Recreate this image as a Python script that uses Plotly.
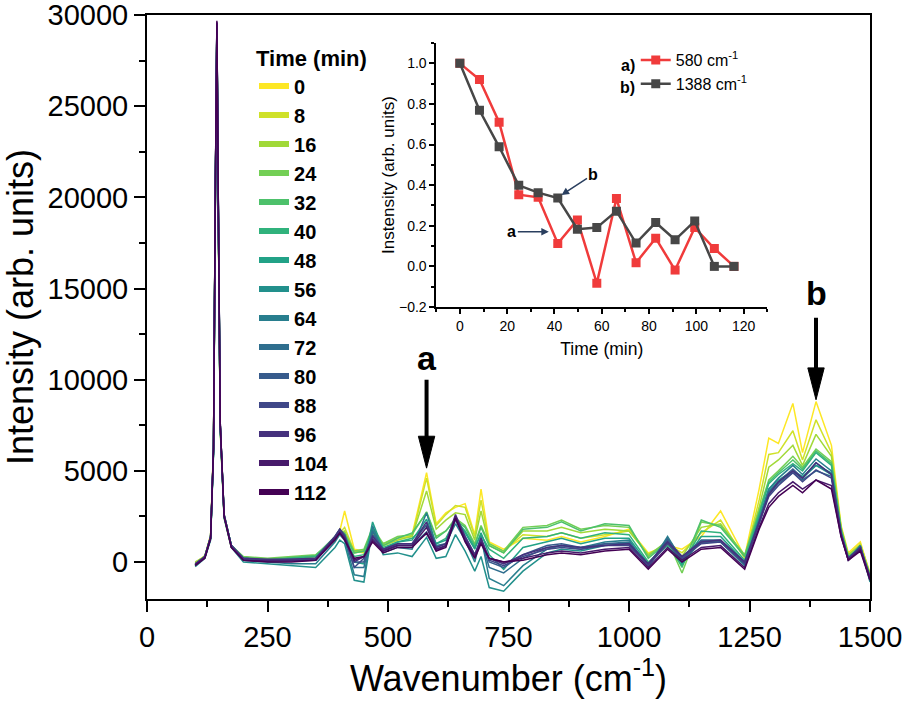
import plotly.graph_objects as go
from plotly.colors import sample_colorscale

times = [0, 8, 16, 24, 32, 40, 48, 56, 64, 72, 80, 88, 96, 104, 112]

wavenumber = [
    100, 120, 132, 138, 142, 145, 148, 152, 160, 175,
    200, 250, 300, 350, 390, 400, 410, 430, 450, 468,
    490, 520, 550, 580, 600, 620, 640, 660, 680, 693,
    710, 740, 780, 830, 860, 900, 950, 1000, 1040, 1080,
    1110, 1150, 1190, 1240, 1270, 1290, 1310, 1340, 1360, 1388,
    1420, 1440, 1455, 1480, 1500,
]

spec_0 = [
    -100, 300, 1500, 6500, 21000, 29400, 19000, 7500, 2600, 900,
    200, 100, 200, 300, 1300, 1700, 2800, 700, 600, 1700,
    900, 1200, 1500, 4900, 2100, 2700, 3000, 3200, 1500, 4000,
    1100, 700, 1300, 1200, 1400, 1100, 1400, 1800, 500, 900,
    700, 1400, 2800, 300, 4000, 6800, 6500, 8700, 6000, 8800,
    6400, 2000, 500, 1100, -700,
]
spec_8 = [
    -50, 350, 1400, 6300, 20500, 29300, 18800, 7300, 2500, 800,
    250, 150, 150, 350, 1200, 1600, 1900, 600, 500, 1600,
    1000, 1300, 1400, 4600, 2000, 2600, 3100, 3000, 1400, 3400,
    1000, 600, 1500, 1400, 1600, 1300, 1500, 1700, 400, 1000,
    500, 1600, 2300, 200, 3400, 5900, 6000, 7200, 5600, 7800,
    6000, 1900, 400, 1000, -600,
]
spec_16 = [
    0, 300, 1300, 6200, 20800, 29200, 18700, 7200, 2400, 800,
    200, 100, 250, 300, 1200, 1600, 1700, 500, 600, 1700,
    900, 1200, 1400, 3900, 1800, 2300, 2700, 2600, 1200, 2800,
    900, 500, 1700, 1700, 1900, 1600, 1800, 1700, 400, 1100,
    300, 1900, 2100, 300, 3000, 5200, 5600, 6400, 5300, 7000,
    5800, 1900, 400, 900, -700,
]
spec_24 = [
    -150, 250, 1300, 6100, 20600, 29300, 18900, 7400, 2500, 900,
    300, 200, 300, 400, 1300, 1700, 1600, 600, 700, 1900,
    1000, 1400, 1500, 2750, 1400, 1700, 2400, 2000, 1000, 2000,
    1000, 600, 1900, 2000, 2300, 1800, 2000, 1900, 300, 1200,
    -600, 2200, 2000, 400, 2800, 4500, 5000, 5800, 5200, 6200,
    5500, 1800, 300, 800, -800,
]
spec_32 = [
    -100, 300, 1400, 6200, 20900, 29400, 19100, 7500, 2600, 900,
    250, 150, 250, 350, 1400, 1800, 1500, 500, 600, 1800,
    900, 1300, 1600, 2700, 1300, 1700, 2300, 1900, 900, 1900,
    900, 500, 1800, 1900, 2200, 1700, 2100, 2000, 200, 1100,
    -300, 2300, 1900, 300, 2700, 4400, 4900, 5600, 5100, 6100,
    5400, 1800, 300, 800, -700,
]
spec_40 = [
    -200, 250, 1300, 6000, 20700, 29300, 19000, 7400, 2500, 900,
    200, 100, 200, 300, 1300, 1700, 1400, 300, 400, 1500,
    800, 1100, 1300, 2000, 1000, 1300, 2300, 1700, 800, 1500,
    700, 200, 1300, 1400, 1600, 1300, 1600, 1500, 0, 900,
    -200, 1700, 1600, 100, 2600, 4300, 4800, 5400, 5000, 6000,
    5300, 1700, 200, 700, -800,
]
spec_48 = [
    -150, 300, 1300, 6100, 20800, 29500, 19200, 7500, 2600, 900,
    150, 50, 100, 200, 1300, 1700, 1500, 0, -100, 2200,
    700, 1100, 1200, 2350, 1000, 1200, 2400, 1600, 700, 1600,
    400, -400, 800, 1100, 1300, 1000, 1300, 1300, -100, 1100,
    -100, 1400, 1400, 0, 2400, 4000, 4500, 5000, 4700, 5300,
    4900, 1600, 200, 800, -900,
]
spec_56 = [
    -250, 200, 1200, 6000, 20600, 29300, 19000, 7300, 2400, 800,
    0, -100, -200, -300, 800, 1200, 1000, -1000, -1100, 1800,
    400, 500, 300, 1350, 200, 300, 1500, 600, -500, 300,
    -1400, -1600, -500, 500, 700, 600, 900, 1000, -200, 1200,
    0, 1100, 1100, -200, 2300, 3900, 4400, 5000, 4600, 5300,
    4800, 1500, 100, 900, -1100,
]
spec_64 = [
    -200, 250, 1300, 6100, 20700, 29400, 19100, 7400, 2500, 900,
    100, 0, -100, -100, 1100, 1500, 1200, -700, -800, 2000,
    500, 800, 700, 2700, 900, 1000, 2100, 1200, 0, 1400,
    -900, -1300, -200, 700, 900, 800, 1100, 1200, -300, 1400,
    100, 1200, 1200, -100, 2400, 4000, 4600, 5300, 4800, 5650,
    5000, 1600, 200, 900, -1000,
]
spec_72 = [
    -150, 300, 1400, 6200, 20900, 29500, 19200, 7500, 2600, 900,
    200, 100, 100, 100, 1300, 1700, 1400, -300, -300, 1700,
    600, 900, 900, 1650, 700, 900, 2300, 1300, 300, 1200,
    -300, -600, 200, 800, 900, 700, 1000, 1100, -200, 1300,
    200, 1100, 1100, -100, 2200, 3700, 4300, 4900, 4500, 5000,
    4700, 1500, 200, 800, -1000,
]
spec_80 = [
    -100, 300, 1400, 6300, 21000, 29500, 19300, 7600, 2600, 900,
    200, 100, 150, 200, 1400, 1800, 1500, 0, 0, 1500,
    700, 1000, 1000, 2050, 800, 1000, 2500, 1400, 400, 1300,
    0, -300, 400, 900, 1000, 800, 1000, 1000, -100, 1200,
    300, 1200, 1200, 0, 2200, 3800, 4400, 5100, 4600, 5450,
    4800, 1500, 200, 700, -900,
]
spec_88 = [
    -150, 250, 1300, 6200, 20900, 29600, 19300, 7500, 2500, 900,
    150, 100, 100, 150, 1300, 1700, 1300, -300, 200, 1300,
    600, 900, 900, 1550, 600, 900, 2400, 1300, 300, 1200,
    100, -200, 300, 700, 800, 700, 900, 900, -200, 1000,
    200, 1000, 1100, -100, 2100, 3600, 4200, 4900, 4400, 5050,
    4600, 1500, 100, 700, -900,
]
spec_96 = [
    -100, 300, 1400, 6300, 21100, 29600, 19400, 7600, 2600, 900,
    200, 150, 150, 200, 1400, 1800, 1400, 0, 300, 1400,
    700, 1000, 1000, 2200, 800, 1000, 2600, 1400, 400, 1300,
    200, -100, 400, 800, 900, 800, 900, 1000, -100, 1100,
    300, 1100, 1200, 0, 2200, 3700, 4400, 5000, 4600, 5450,
    4800, 1600, 200, 800, -800,
]
spec_104 = [
    -150, 250, 1300, 6200, 21000, 29600, 19400, 7500, 2500, 800,
    100, 50, 50, 100, 1300, 1600, 1300, 100, 300, 1200,
    600, 900, 900, 1900, 700, 900, 2500, 1200, 300, 1100,
    200, 0, 200, 500, 600, 500, 700, 800, -300, 800,
    100, 800, 900, -300, 1900, 3200, 3800, 4400, 4000, 4500,
    4200, 1400, 100, 700, -900,
]
spec_112 = [
    -200, 200, 1300, 6300, 21200, 29700, 19500, 7600, 2500, 800,
    100, 0, 0, 100, 1200, 1600, 1200, 200, 300, 1100,
    500, 800, 800, 1600, 600, 800, 2400, 1100, 200, 1000,
    200, 0, 100, 400, 500, 400, 600, 700, -400, 700,
    0, 700, 800, -400, 1800, 3000, 3600, 4200, 3800, 4500,
    4000, 1400, 100, 600, -1000,
]

spectra = [spec_0, spec_8, spec_16, spec_24, spec_32, spec_40, spec_48, spec_56,
           spec_64, spec_72, spec_80, spec_88, spec_96, spec_104, spec_112]

# inset: normalised intensity of the two bands vs time
inset_time = [0, 8.3, 16.6, 24.9, 33.1, 41.4, 49.7, 57.9, 66.2, 74.5, 82.8, 91.0, 99.3, 107.6, 115.9]
band_580 = [1.0, 0.92, 0.71, 0.353, 0.34, 0.113, 0.229, -0.083, 0.334, 0.018, 0.139, -0.018, 0.191, 0.088, 0.0]
band_1388 = [1.0, 0.769, 0.589, 0.399, 0.363, 0.337, 0.183, 0.191, 0.272, 0.115, 0.216, 0.131, 0.223, 0.0, 0.0]

# arrow markers for the two bands in the main plot
peak_a, peak_b = 580, 1388
arrow_a = (10000, 5150)   # tail, tip (intensity)
arrow_b = (13400, 8900)

colors = sample_colorscale("Viridis", [1 - i / (len(times) - 1) for i in range(len(times))])
FONT = "Liberation Sans, Arial, sans-serif"

fig = go.Figure()

for t, y, c in zip(times, spectra, colors):
    fig.add_trace(go.Scatter(
        x=wavenumber, y=y, mode="lines",
        line=dict(color=c, width=1.5),
        showlegend=False, hoverinfo="skip",
    ))

# legend-only entries with thick sample lines
for t, c in zip(times, colors):
    fig.add_trace(go.Scatter(
        x=[None], y=[None], mode="lines", name=f"<b>{t}</b>",
        line=dict(color=c, width=6),
    ))

# inset traces
fig.add_trace(go.Scatter(
    x=inset_time, y=band_580, mode="lines+markers", name="580 cm<sup>-1</sup>",
    line=dict(color="#f03b3b", width=2.5),
    marker=dict(symbol="square", size=9, color="#f03b3b"),
    xaxis="x2", yaxis="y2", legend="legend2",
))
fig.add_trace(go.Scatter(
    x=inset_time, y=band_1388, mode="lines+markers", name="1388 cm<sup>-1</sup>",
    line=dict(color="#474747", width=2.5),
    marker=dict(symbol="square", size=9, color="#474747"),
    xaxis="x2", yaxis="y2", legend="legend2",
))

# arrows in main plot
head_len = 1750
for xp, (tail, tip) in [(peak_a, arrow_a), (peak_b, arrow_b)]:
    fig.add_shape(type="line", x0=xp, x1=xp, y0=tail, y1=tip + head_len * 0.9,
                  line=dict(color="black", width=4), xref="x", yref="y")
    fig.add_shape(type="path", xref="x", yref="y",
                  path=f"M {xp - 17},{tip + head_len} L {xp + 17},{tip + head_len} L {xp},{tip} Z",
                  fillcolor="black", line=dict(color="black", width=1))

annotations = [
    dict(x=peak_a, y=arrow_a[0] + 50, text="<b>a</b>", showarrow=False,
         yanchor="bottom", font=dict(size=34, color="black", family=FONT)),
    dict(x=peak_b, y=arrow_b[0] + 200, text="<b>b</b>", showarrow=False,
         yanchor="bottom", font=dict(size=34, color="black", family=FONT)),
    # inset legend prefixes
    dict(x=0.678, y=0.913, xref="paper", yref="paper", text="<b>a)</b>", showarrow=False,
         xanchor="right", yanchor="middle", font=dict(size=16, color="black", family=FONT)),
    dict(x=0.678, y=0.876, xref="paper", yref="paper", text="<b>b)</b>", showarrow=False,
         xanchor="right", yanchor="middle", font=dict(size=16, color="black", family=FONT)),
    # inset arrows
    dict(x=37.6, y=0.17, ax=24.5, ay=0.17, xref="x2", yref="y2", axref="x2", ayref="y2",
         text="<b>a</b>", showarrow=True, arrowhead=2, arrowsize=1, arrowwidth=1.5,
         xanchor="right", font=dict(size=16, color="black", family=FONT)),
    dict(x=43, y=0.352, ax=56.5, ay=0.455, xref="x2", yref="y2", axref="x2", ayref="y2",
         text="<b>b</b>", showarrow=True, arrowhead=2, arrowsize=1, arrowwidth=1.5,
         font=dict(size=16, color="black", family=FONT)),
]

axis_common = dict(showline=True, linecolor="black", showgrid=False, zeroline=False,
                   ticks="outside", tickcolor="black", automargin=False)
inset_x = dict(range=[-10, 130], dtick=20, tick0=0, linewidth=1.5, tickwidth=1.5, ticklen=5)
inset_y = dict(range=[-0.2, 1.1], dtick=0.2, tick0=0, linewidth=1.5, tickwidth=1.5, ticklen=5)

fig.update_layout(
    width=906, height=711,
    paper_bgcolor="white", plot_bgcolor="white",
    margin=dict(l=147, r=36, t=15, b=112),
    font=dict(family=FONT, color="black"),
    xaxis=dict(**axis_common, range=[0, 1500], dtick=250, tick0=0,
               linewidth=2, tickwidth=2, ticklen=11, mirror=True,
               tickfont=dict(size=29), ticklabeloverflow="allow",
               minor=dict(ticks="outside", dtick=125, ticklen=6, tickwidth=2, tickcolor="black"),
               title=dict(text="Wavenumber (cm<sup>-1</sup>)", font=dict(size=36), standoff=10)),
    yaxis=dict(**axis_common, range=[-2030, 30010], dtick=5000, tick0=0, tickformat="d",
               linewidth=2, tickwidth=2, ticklen=11, mirror=True,
               tickfont=dict(size=29), ticklabeloverflow="allow",
               minor=dict(ticks="outside", dtick=2500, ticklen=6, tickwidth=2, tickcolor="black"),
               title=dict(text="Intensity (arb. units)", font=dict(size=36), standoff=10)),
    xaxis2=dict(**axis_common, **inset_x, domain=[0.400, 0.858], anchor="y2",
                tickfont=dict(size=14),
                minor=dict(ticks="outside", dtick=10, ticklen=3, tickwidth=1.5, tickcolor="black"),
                title=dict(text="Time (min)", font=dict(size=17.5), standoff=10)),
    yaxis2=dict(**axis_common, **inset_y, domain=[0.500, 0.952], anchor="x2",
                tickformat=".1f", tickfont=dict(size=14),
                minor=dict(ticks="outside", dtick=0.1, ticklen=3, tickwidth=1.5, tickcolor="black"),
                title=dict(text="Instensity (arb. units)", font=dict(size=17), standoff=0)),
    # top / right frame of the inset with inward ticks
    xaxis3=dict(**{**axis_common, "ticks": "inside"}, **inset_x, overlaying="x2", anchor="y2",
                side="top", showticklabels=False,
                minor=dict(ticks="inside", dtick=10, ticklen=3, tickwidth=1.5, tickcolor="black")),
    yaxis3=dict(**{**axis_common, "ticks": "inside"}, **inset_y, overlaying="y2", anchor="x2",
                side="right", showticklabels=False,
                minor=dict(ticks="inside", dtick=0.1, ticklen=3, tickwidth=1.5, tickcolor="black")),
    legend=dict(x=0.148, y=0.961, xanchor="left", yanchor="top",
                bgcolor="rgba(0,0,0,0)", font=dict(size=20, family=FONT),
                title=dict(text="<b>Time (min)</b>", font=dict(size=22, family=FONT)),
                traceorder="normal", itemwidth=30),
    legend2=dict(x=0.676, y=0.952, xanchor="left", yanchor="top",
                 bgcolor="rgba(0,0,0,0)", font=dict(size=16, family=FONT),
                 itemwidth=30, tracegroupgap=0),
    annotations=annotations,
)

# drop the default page margin so the figure sits at the window's corner
fig.write_html("out.html", config={"displayModeBar": False},
               post_script="document.body.style.margin = '0';")
